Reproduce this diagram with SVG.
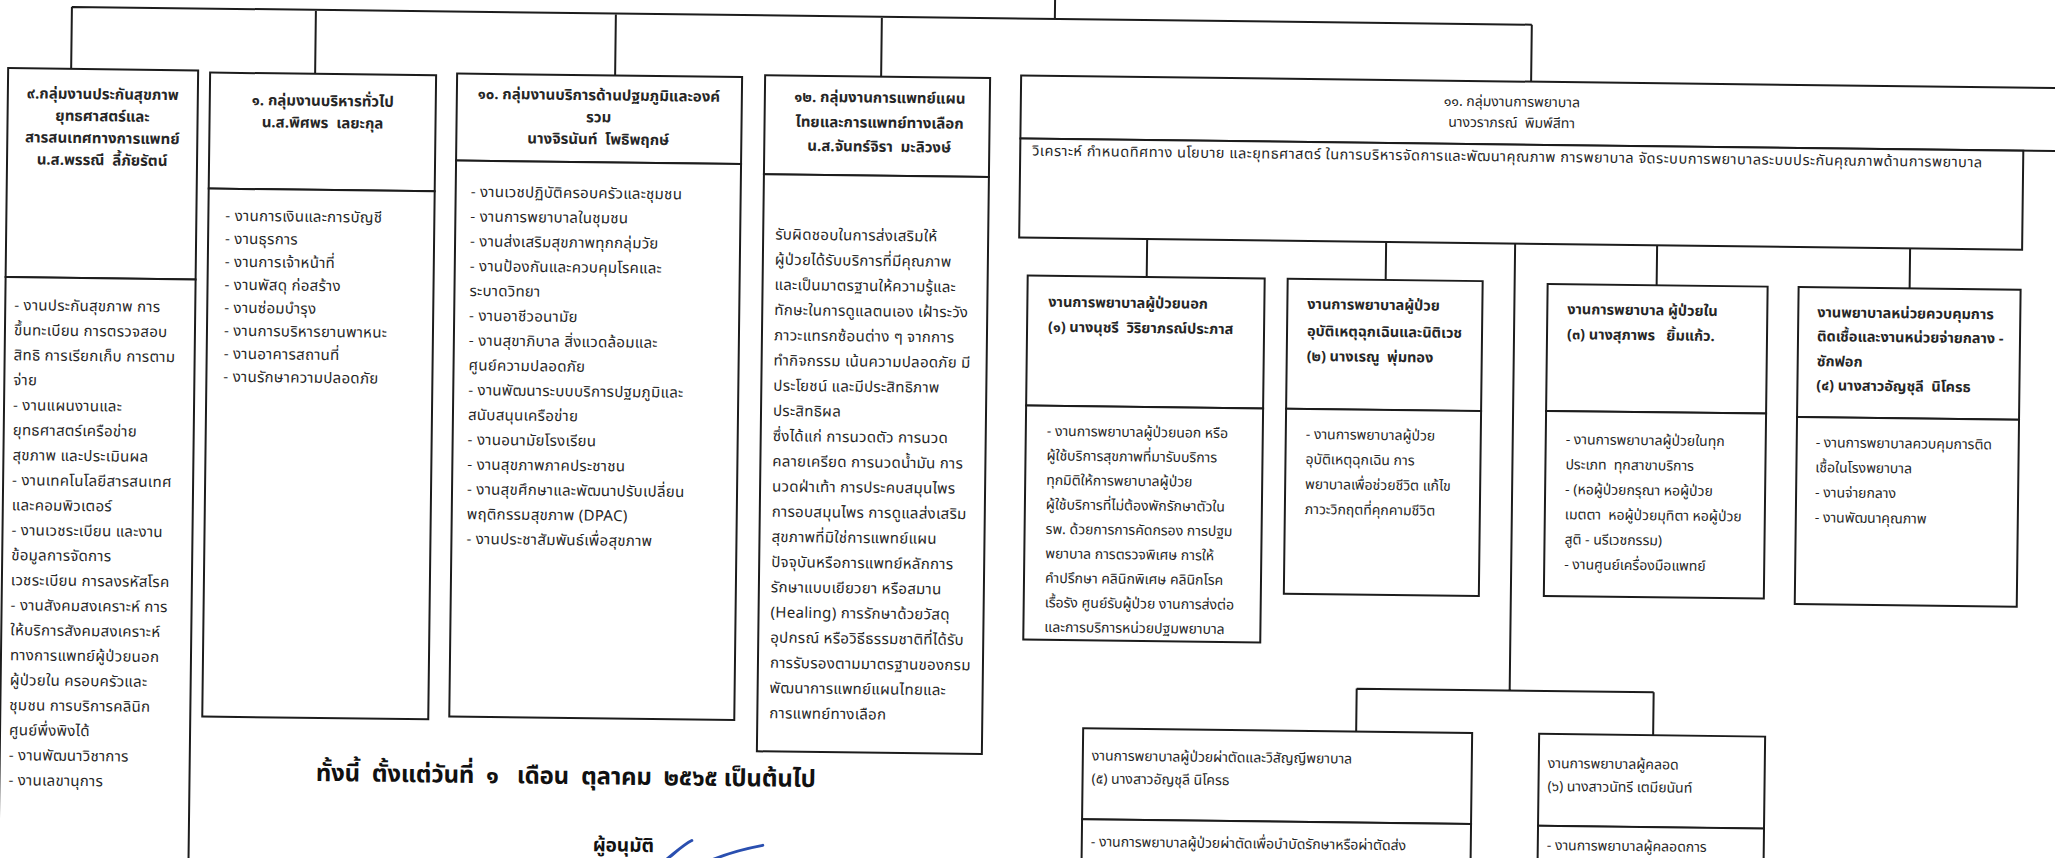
<svg xmlns="http://www.w3.org/2000/svg" width="2055" height="858" viewBox="0 0 2055 858">
<style>
text { white-space: pre; font-family: "Noto Sans Thai", "Noto Sans Thai Looped", Tahoma, "DejaVu Sans", sans-serif; fill: #262626; }
.bx { fill: #fff; stroke: #1c1c1c; stroke-width: 2; }
.ln { fill: none; stroke: #1c1c1c; stroke-width: 2; }
.h { font-size: 15px; font-weight: bold; text-anchor: middle; }
.hl { font-size: 14.5px; font-weight: bold; }
.b { font-size: 14px; }
.bw { font-size: 15px; letter-spacing: 0.3px; }
.h11 { font-size: 14px; text-anchor: middle; }
.b11 { font-size: 14.5px; }
.c { font-size: 14px; }
.foot { font-size: 24px; font-weight: bold; fill: #111; }
</style>
<rect width="2055" height="858" fill="#fff"/>
<g transform="rotate(0.7)">
<g id="connectors">
<path class="ln" d="M1055 -20 V6 M72 6 H1532 M72 6 V68 M316 6 V70 M616 6 V68 M882 6 V66 M1532 6 V63"/>
<path class="ln" d="M1150 225 V263 M1389 225 V263 M1660 225 V265 M1913 225 V265 M1518 225 V672 M1365 672 H1662 M1365 672 V715 M1662 672 V715"/>
</g>
<g id="n9">
<rect class="bx" x="9" y="68" width="190" height="209"/>
<rect class="bx" x="9" y="277" width="190" height="640"/>
<text class="h" x="104"><tspan x="104" y="98">๙.กลุ่มงานประกันสุขภาพ</tspan><tspan x="104" y="120">ยุทธศาสตร์และ</tspan><tspan x="104" y="142">สารสนเทศทางการแพทย์</tspan><tspan x="104" y="164">น.ส.พรรณี  ลี้ภัยรัตน์</tspan></text>
<text class="bw"><tspan x="18" y="310">- งานประกันสุขภาพ การ</tspan><tspan x="18" y="335">ขึ้นทะเบียน การตรวจสอบ</tspan><tspan x="18" y="360">สิทธิ การเรียกเก็บ การตาม</tspan><tspan x="18" y="385">จ่าย</tspan><tspan x="18" y="410">- งานแผนงานและ</tspan><tspan x="18" y="435">ยุทธศาสตร์เครือข่าย</tspan><tspan x="18" y="460">สุขภาพ และประเมินผล</tspan><tspan x="18" y="485">- งานเทคโนโลยีสารสนเทศ</tspan><tspan x="18" y="510">และคอมพิวเตอร์</tspan><tspan x="18" y="535">- งานเวชระเบียน และงาน</tspan><tspan x="18" y="560">ข้อมูลการจัดการ</tspan><tspan x="18" y="585">เวชระเบียน การลงรหัสโรค</tspan><tspan x="18" y="610">- งานสังคมสงเคราะห์ การ</tspan><tspan x="18" y="635">ให้บริการสังคมสงเคราะห์</tspan><tspan x="18" y="660">ทางการแพทย์ผู้ป่วยนอก</tspan><tspan x="18" y="685">ผู้ป่วยใน ครอบครัวและ</tspan><tspan x="18" y="710">ชุมชน การบริการคลินิก</tspan><tspan x="18" y="735">ศูนย์พึ่งพิงได้</tspan><tspan x="18" y="760">- งานพัฒนาวิชาการ</tspan><tspan x="18" y="785">- งานเลขานุการ</tspan></text>
</g>
<g id="n1">
<rect class="bx" x="211" y="70" width="226" height="116"/>
<rect class="bx" x="211" y="186" width="226" height="528"/>
<text class="h"><tspan x="324" y="102">๑. กลุ่มงานบริหารทั่วไป</tspan><tspan x="324" y="124">น.ส.พิศพร  เลยะกุล</tspan></text>
<text class="bw"><tspan x="228" y="218">- งานการเงินและการบัญชี</tspan><tspan x="228" y="241">- งานธุรการ</tspan><tspan x="228" y="264">- งานการเจ้าหน้าที่</tspan><tspan x="228" y="287">- งานพัสดุ ก่อสร้าง</tspan><tspan x="228" y="310">- งานซ่อมบำรุง</tspan><tspan x="228" y="333">- งานการบริหารยานพาหนะ</tspan><tspan x="228" y="356">- งานอาคารสถานที่</tspan><tspan x="228" y="379">- งานรักษาความปลอดภัย</tspan></text>
</g>
<g id="n10">
<rect class="bx" x="458" y="68" width="285" height="87"/>
<rect class="bx" x="458" y="155" width="285" height="556"/>
<text class="h"><tspan x="600" y="93">๑๐. กลุ่มงานบริการด้านปฐมภูมิและองค์</tspan><tspan x="600" y="115">รวม</tspan><tspan x="600" y="137">นางจิรนันท์  โพธิพฤกษ์</tspan></text>
<text class="bw"><tspan x="473" y="191">- งานเวชปฏิบัติครอบครัวและชุมชน</tspan><tspan x="473" y="215.8">- งานการพยาบาลในชุมชน</tspan><tspan x="473" y="240.6">- งานส่งเสริมสุขภาพทุกกลุ่มวัย</tspan><tspan x="473" y="265.4">- งานป้องกันและควบคุมโรคและ</tspan><tspan x="473" y="290.2">ระบาดวิทยา</tspan><tspan x="473" y="315">- งานอาชีวอนามัย</tspan><tspan x="473" y="339.8">- งานสุขาภิบาล สิ่งแวดล้อมและ</tspan><tspan x="473" y="364.6">ศูนย์ความปลอดภัย</tspan><tspan x="473" y="389.4">- งานพัฒนาระบบบริการปฐมภูมิและ</tspan><tspan x="473" y="414.2">สนับสนุนเครือข่าย</tspan><tspan x="473" y="439">- งานอนามัยโรงเรียน</tspan><tspan x="473" y="463.8">- งานสุขภาพภาคประชาชน</tspan><tspan x="473" y="488.6">- งานสุขศึกษาและพัฒนาปรับเปลี่ยน</tspan><tspan x="473" y="513.4">พฤติกรรมสุขภาพ (DPAC)</tspan><tspan x="473" y="538.2">- งานประชาสัมพันธ์เพื่อสุขภาพ</tspan></text>
</g>
<g id="n12">
<rect class="bx" x="766" y="66" width="225" height="99"/>
<rect class="bx" x="766" y="165" width="225" height="577"/>
<text class="h"><tspan x="881" y="92">๑๒. กลุ่มงานการแพทย์แผน</tspan><tspan x="881" y="117">ไทยและการแพทย์ทางเลือก</tspan><tspan x="881" y="141">น.ส.จันทร์จิรา  มะลิวงษ์</tspan></text>
<text class="bw"><tspan x="778" y="230">รับผิดชอบในการส่งเสริมให้</tspan><tspan x="778" y="255.2">ผู้ป่วยได้รับบริการที่มีคุณภาพ</tspan><tspan x="778" y="280.4">และเป็นมาตรฐานให้ความรู้และ</tspan><tspan x="778" y="305.6">ทักษะในการดูแลตนเอง เฝ้าระวัง</tspan><tspan x="778" y="330.8">ภาวะแทรกซ้อนต่าง ๆ จากการ</tspan><tspan x="778" y="356">ทำกิจกรรม เน้นความปลอดภัย มี</tspan><tspan x="778" y="381.2">ประโยชน์ และมีประสิทธิภาพ</tspan><tspan x="778" y="406.4">ประสิทธิผล</tspan><tspan x="778" y="431.6">ซึ่งได้แก่ การนวดตัว การนวด</tspan><tspan x="778" y="456.8">คลายเครียด การนวดน้ำมัน การ</tspan><tspan x="778" y="482">นวดฝ่าเท้า การประคบสมุนไพร</tspan><tspan x="778" y="507.2">การอบสมุนไพร การดูแลส่งเสริม</tspan><tspan x="778" y="532.4">สุขภาพที่มิใช่การแพทย์แผน</tspan><tspan x="778" y="557.6">ปัจจุบันหรือการแพทย์หลักการ</tspan><tspan x="778" y="582.8">รักษาแบบเยียวยา หรือสมาน</tspan><tspan x="778" y="608">(Healing) การรักษาด้วยวัสดุ</tspan><tspan x="778" y="633.2">อุปกรณ์ หรือวิธีธรรมชาติที่ได้รับ</tspan><tspan x="778" y="658.4">การรับรองตามมาตรฐานของกรม</tspan><tspan x="778" y="683.6">พัฒนาการแพทย์แผนไทยและ</tspan><tspan x="778" y="708.8">การแพทย์ทางเลือก</tspan></text>
</g>
<g id="n11">
<rect class="bx" x="1022" y="63" width="1100" height="63"/>
<rect class="bx" x="1022" y="126" width="1003" height="99"/>
<text class="h11"><tspan x="1513" y="88">๑๑. กลุ่มงานการพยาบาล</tspan><tspan x="1513" y="109">นางวราภรณ์  พิมพ์สีทา</tspan></text>
<text class="b11" x="1034" y="143" textLength="950" lengthAdjust="spacing">วิเคราะห์ กำหนดทิศทาง นโยบาย และยุทธศาสตร์ ในการบริหารจัดการและพัฒนาคุณภาพ การพยาบาล จัดระบบการพยาบาลระบบประกันคุณภาพด้านการพยาบาล</text>
</g>
<g id="n11-1">
<rect class="bx" x="1031" y="263" width="237" height="130"/>
<rect class="bx" x="1031" y="393" width="237" height="234"/>
<text class="hl"><tspan x="1052" y="294">งานการพยาบาลผู้ป่วยนอก</tspan><tspan x="1052" y="319">(๑) นางนุชรี  วิริยาภรณ์ประภาส</tspan></text>
<text class="b"><tspan x="1052" y="423">- งานการพยาบาลผู้ป่วยนอก หรือ</tspan><tspan x="1052" y="447.5">ผู้ใช้บริการสุขภาพที่มารับบริการ</tspan><tspan x="1052" y="472">ทุกมิติให้การพยาบาลผู้ป่วย</tspan><tspan x="1052" y="496.5">ผู้ใช้บริการที่ไม่ต้องพักรักษาตัวใน</tspan><tspan x="1052" y="521">รพ. ด้วยการการคัดกรอง การปฐม</tspan><tspan x="1052" y="545.5">พยาบาล การตรวจพิเศษ การให้</tspan><tspan x="1052" y="570">คำปรึกษา คลินิกพิเศษ คลินิกโรค</tspan><tspan x="1052" y="594.5">เรื้อรัง ศูนย์รับผู้ป่วย งานการส่งต่อ</tspan><tspan x="1052" y="619">และการบริการหน่วยปฐมพยาบาล</tspan></text>
</g>
<g id="n11-2">
<rect class="bx" x="1291" y="263" width="195" height="130"/>
<rect class="bx" x="1291" y="393" width="195" height="185"/>
<text class="hl"><tspan x="1311" y="293">งานการพยาบาลผู้ป่วย</tspan><tspan x="1311" y="320">อุบัติเหตุฉุกเฉินและนิติเวช</tspan><tspan x="1311" y="345">(๒) นางเรณู  พุ่มทอง</tspan></text>
<text class="b"><tspan x="1311" y="423">- งานการพยาบาลผู้ป่วย</tspan><tspan x="1311" y="448">อุบัติเหตุฉุกเฉิน การ</tspan><tspan x="1311" y="473">พยาบาลเพื่อช่วยชีวิต แก้ไข</tspan><tspan x="1311" y="498">ภาวะวิกฤตที่คุกคามชีวิต</tspan></text>
</g>
<g id="n11-3">
<rect class="bx" x="1551" y="265" width="220" height="127"/>
<rect class="bx" x="1551" y="392" width="220" height="185"/>
<text class="hl"><tspan x="1571" y="295">งานการพยาบาล ผู้ป่วยใน</tspan><tspan x="1571" y="320">(๓) นางสุภาพร   ยิ้มแก้ว.</tspan></text>
<text class="b"><tspan x="1571" y="425">- งานการพยาบาลผู้ป่วยในทุก</tspan><tspan x="1571" y="450">ประเภท  ทุกสาขาบริการ</tspan><tspan x="1571" y="475">- (หอผู้ป่วยกรุณา หอผู้ป่วย</tspan><tspan x="1571" y="500">เมตตา  หอผู้ป่วยมุทิตา หอผู้ป่วย</tspan><tspan x="1571" y="525">สูติ - นรีเวชกรรม)</tspan><tspan x="1571" y="550">- งานศูนย์เครื่องมือแพทย์</tspan></text>
</g>
<g id="n11-4">
<rect class="bx" x="1802" y="265" width="222" height="130"/>
<rect class="bx" x="1802" y="395" width="222" height="187"/>
<text class="hl"><tspan x="1821" y="295">งานพยาบาลหน่วยควบคุมการ</tspan><tspan x="1821" y="319">ติดเชื้อและงานหน่วยจ่ายกลาง -</tspan><tspan x="1821" y="344">ซักฟอก</tspan><tspan x="1821" y="368">(๔) นางสาวอัญชุลี  นิโครธ</tspan></text>
<text class="b"><tspan x="1821" y="425">- งานการพยาบาลควบคุมการติด</tspan><tspan x="1821" y="450">เชื้อในโรงพยาบาล</tspan><tspan x="1821" y="475">- งานจ่ายกลาง</tspan><tspan x="1821" y="500">- งานพัฒนาคุณภาพ</tspan></text>
</g>
<g id="n11-5">
<rect class="bx" x="1092" y="715" width="389" height="91"/>
<rect class="bx" x="1092" y="806" width="389" height="120"/>
<text class="c"><tspan x="1101" y="747">งานการพยาบาลผู้ป่วยผ่าตัดและวิสัญญีพยาบาล</tspan><tspan x="1101" y="770">(๕) นางสาวอัญชุลี นิโครธ</tspan></text>
<text class="c" x="1101" y="833">- งานการพยาบาลผู้ป่วยผ่าตัดเพื่อบำบัดรักษาหรือผ่าตัดส่ง</text>
</g>
<g id="n11-6">
<rect class="bx" x="1548" y="715" width="226" height="92"/>
<rect class="bx" x="1548" y="807" width="226" height="120"/>
<text class="c"><tspan x="1557" y="749">งานการพยาบาลผู้คลอด</tspan><tspan x="1557" y="772">(๖) นางสาวนัทรี เตมียนันท์</tspan></text>
<text class="c" x="1557" y="831">- งานการพยาบาลผู้คลอดการ</text>
</g>
<g id="footer">
<text class="foot" x="325" y="777" textLength="500" lengthAdjust="spacing">ทั้งนี้  ตั้งแต่วันที่  ๑   เดือน  ตุลาคม  ๒๕๖๕ เป็นต้นไป</text>
<text class="foot" x="603" y="844" style="font-size:19px">ผู้อนุมัติ</text>
<path d="M676 852 C686 844 694 836 702 832 M716 854 C733 846 753 840 773 836" fill="none" stroke="#2a4fb0" stroke-width="3" stroke-linecap="round"/>
</g>
</g>
</svg>
